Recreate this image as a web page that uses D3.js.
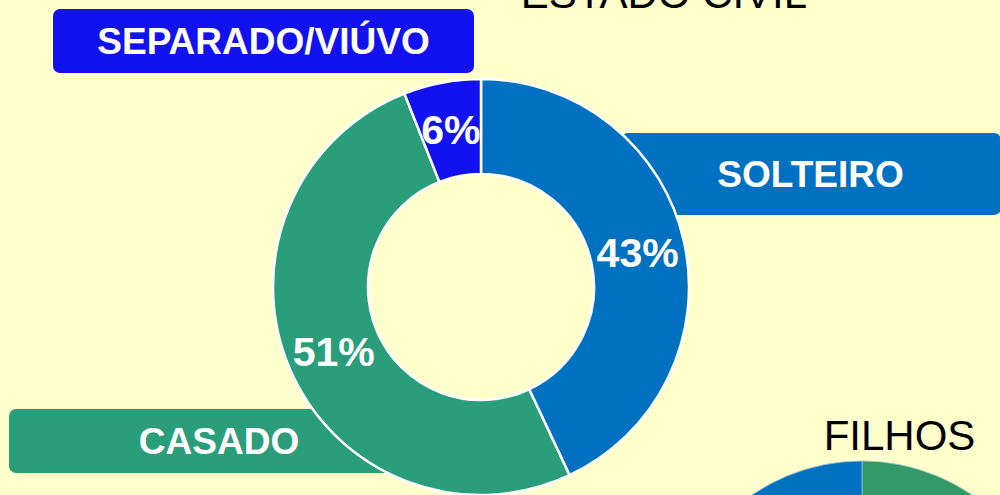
<!DOCTYPE html>
<html><head><meta charset="utf-8">
<script src="https://cdn.jsdelivr.net/npm/d3@7"></script>
<style>html,body{margin:0;padding:0;background:#FFFFCC;}svg{display:block;}</style>
</head><body>
<script>
// Data
const estadoCategories = ["SOLTEIRO", "CASADO", "SEPARADO/VIÚVO"];
const estadoValues = [43, 51, 6];
const estadoColors = ["#0070C0", "#2A9D7A", "#1212F0"];
const filhosCategories = ["SIM", "NÃO"];
const filhosValues = [50, 50];
const filhosColors = ["#339966", "#0070C0"];

const W = 1000, H = 495;
const svg = d3.select("body").append("svg").attr("width", W).attr("height", H);
svg.append("rect").attr("width", W).attr("height", H).attr("fill", "#FFFFCC");

const font = "'Liberation Sans', Arial, Helvetica, sans-serif";

// Title (partly above the top edge, as in the reference)
svg.append("text").attr("x", 664).attr("y", 8).attr("text-anchor", "middle")
  .attr("font-family", font).attr("font-size", 42).attr("fill", "#000").text("ESTADO CIVIL");

// Label boxes (drawn under the donut)
const boxes = [
  {i: 0, x: 621, y: 133, w: 380, h: 82, tx: 810.5},
  {i: 1, x: 9, y: 409, w: 420, h: 64, tx: 219},
  {i: 2, x: 53, y: 9, w: 421, h: 64, tx: 263.5}
];
boxes.forEach(b => {
  svg.append("rect").attr("x", b.x).attr("y", b.y).attr("width", b.w).attr("height", b.h)
    .attr("rx", 7).attr("ry", 7).attr("fill", estadoColors[b.i]);
  svg.append("text").attr("x", b.tx).attr("y", b.y + b.h / 2 + 13)
    .attr("text-anchor", "middle").attr("font-family", font).attr("font-weight", "bold")
    .attr("font-size", 37).attr("fill", "#fff").text(estadoCategories[b.i]);
});

// Donut
const cx = 481, cy = 287, rOut = 208, rIn = 113;
const pie = d3.pie().sort(null).value(d => d);
const arc = d3.arc().innerRadius(rIn).outerRadius(rOut);
const g = svg.append("g").attr("transform", `translate(${cx},${cy})`);
const arcs = pie(estadoValues);
g.selectAll("path").data(arcs).join("path")
  .attr("d", arc).attr("fill", (d, i) => estadoColors[i])
  .attr("stroke", "#fff").attr("stroke-width", 2.5);
g.selectAll("text").data(arcs).join("text")
  .attr("transform", d => `translate(${arc.centroid(d)})`)
  .attr("dy", 15).attr("text-anchor", "middle")
  .attr("font-family", font).attr("font-weight", "bold").attr("font-size", 41)
  .attr("fill", "#fff").text(d => d.data + "%");

// FILHOS
svg.append("text").attr("x", 899.5).attr("y", 450).attr("text-anchor", "middle")
  .attr("font-family", font).attr("font-size", 42).attr("fill", "#000").text("FILHOS");
const fArc = d3.arc().innerRadius(0).outerRadius(195);
const fg = svg.append("g").attr("transform", "translate(862,656)");
fg.selectAll("path").data(pie(filhosValues)).join("path")
  .attr("d", fArc).attr("fill", (d, i) => filhosColors[i])
  .attr("stroke", "#9fc3d9").attr("stroke-width", 0.8);
</script>
</body></html>
